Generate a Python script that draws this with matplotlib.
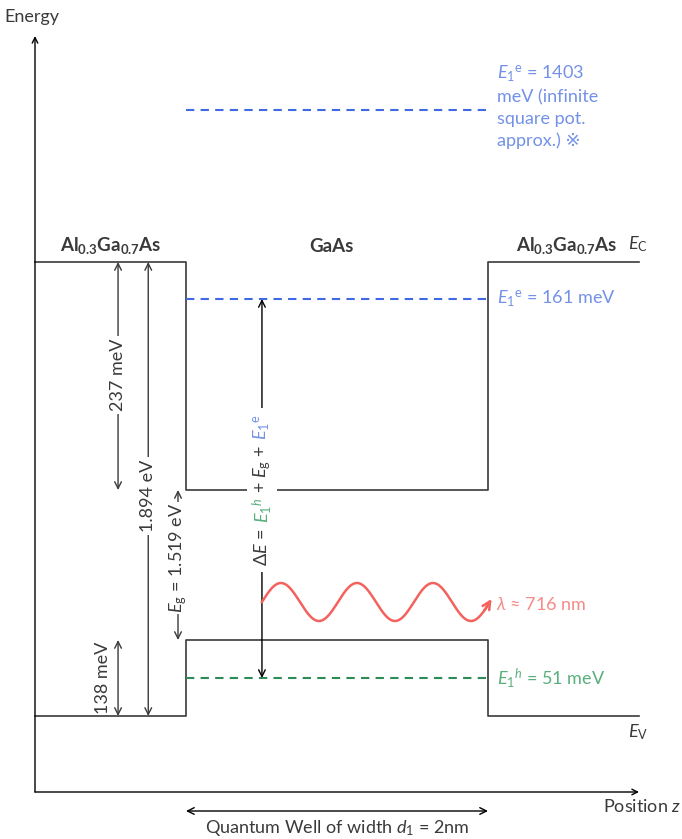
import numpy as np
import matplotlib
matplotlib.use('Agg')
import matplotlib.pyplot as plt
import matplotlib.transforms as mtransforms
from matplotlib.patches import Rectangle

plt.rcParams['font.family'] = ['Lato', 'DejaVu Sans']
plt.rcParams['mathtext.fontset'] = 'custom'
plt.rcParams['mathtext.rm'] = 'Lato'
plt.rcParams['mathtext.it'] = 'Lato:italic'
plt.rcParams['mathtext.bf'] = 'Lato:bold'

# band structure (schematic, not to scale)
z_edges = [-1.0, 0.0, 2.0, 3.0]          # nm: barrier | well | barrier
ec_levels = [530, 302, 530]              # conduction band edge heights
ev_levels = [76, 152, 76]                # valence band edge heights
e1e_level = 493
e1h_level = 114
e1e_inf_level = 682

# values shown in the labels
barrier_gap_eV = 1.894
well_gap_eV = 1.519
dEc_meV = 237
dEv_meV = 138
E1e_meV = 161
E1h_meV = 51
E1e_inf_meV = 1403
lambda_nm = 716
well_width_nm = 2

TXT = '#3a3a3a'
BLUE = '#4169e1'
BLUE_T = '#7391e6'
GREEN = '#2e8b57'
GREEN_T = '#5aae7c'
RED = '#f4625e'
RED_T = '#f58a86'
FS = 13

fig = plt.figure(figsize=(6.82, 8.39), dpi=100)
ax = fig.add_axes([0, 0, 1, 1])
ax.set_xlim(-1 - 35 / 151, (682 - 35) / 151 - 1)
ax.set_ylim(-47, 792)
ax.axis('off')


def steps(levels):
    xs, ys = [], []
    for i, lv in enumerate(levels):
        xs += [z_edges[i], z_edges[i + 1]]
        ys += [lv, lv]
    return xs, ys


# axes
ax.annotate('', xy=(-1, 756), xytext=(-1, 0),
            arrowprops=dict(arrowstyle='->', lw=1, color='black', shrinkA=0, shrinkB=0))
ax.annotate('', xy=(3.0, 0), xytext=(-1, 0),
            arrowprops=dict(arrowstyle='->', lw=1, color='black', shrinkA=0, shrinkB=0))
ax.text(-1.2, 775, 'Energy', fontsize=FS, color=TXT, ha='left', va='center')
ax.text(3.28, -14, 'Position $z$', fontsize=FS, color=TXT, ha='right', va='center')

# band edges
for lv in (ec_levels, ev_levels):
    xs, ys = steps(lv)
    ax.plot(xs, ys, color=TXT, lw=1.2, zorder=2)

ax.text(2.93, 548, r'$E_\mathrm{C}$', fontsize=FS, color=TXT, ha='left', va='center')
ax.text(2.93, 60, r'$E_\mathrm{V}$', fontsize=FS, color=TXT, ha='left', va='center')

alg = r'Al$_{\mathbf{0.3}}$Ga$_{\mathbf{0.7}}$As'
ax.text(-0.5, 546, alg, fontsize=FS + 0.5, color=TXT, weight='bold', ha='center', va='center')
ax.text(2.52, 546, alg, fontsize=FS + 0.5, color=TXT, weight='bold', ha='center', va='center')
ax.text(0.96, 546, 'GaAs', fontsize=FS + 0.5, color=TXT, weight='bold', ha='center', va='center')

# confined levels
ax.plot([0, 2], [e1e_inf_level] * 2, color=BLUE, lw=1.5, dashes=(4, 3))
ax.plot([0, 2], [e1e_level] * 2, color=BLUE, lw=1.5, dashes=(4, 3))
ax.plot([0, 2], [e1h_level] * 2, color=GREEN, lw=1.5, dashes=(4, 3))

ax.text(2.06, 728, r'$E_1{}^{\mathrm{e}}$ = %d' % E1e_inf_meV + '\nmeV (infinite\nsquare pot.\napprox.) \u203b',
        fontsize=FS, color=BLUE_T, ha='left', va='top', linespacing=1.4)
ax.text(2.06, e1e_level, r'$E_1{}^{\mathrm{e}}$ = %d meV' % E1e_meV,
        fontsize=FS, color=BLUE_T, ha='left', va='center')
ax.text(2.06, e1h_level, r'$E_1{}^{h}$ = %d meV' % E1h_meV,
        fontsize=FS, color=GREEN_T, ha='left', va='center')


def dimension(x, y0, y1, label=None, ly=None, pad=2):
    ax.annotate('', xy=(x, y1), xytext=(x, y0),
                arrowprops=dict(arrowstyle='<->', lw=1, color=TXT, shrinkA=0, shrinkB=0,
                                mutation_scale=12))
    if label:
        ax.text(x, ly, label, rotation=90, fontsize=FS, color=TXT, ha='center', va='center',
                bbox=dict(fc='white', ec='none', pad=pad), zorder=4)


dimension(-0.45, ec_levels[1], ec_levels[0], '%d meV' % dEc_meV, 417)
dimension(-0.25, ev_levels[0], ec_levels[0], '%.3f eV' % barrier_gap_eV, 296)
dimension(-0.053, ev_levels[1], ec_levels[1], r'$E_\mathrm{g}$ = %.3f eV' % well_gap_eV, 234, pad=0.5)
dimension(-0.45, ev_levels[0], ev_levels[1])
ax.text(-0.55, 114, '%d meV' % dEv_meV, rotation=90, fontsize=FS, color=TXT,
        ha='center', va='center')

# transition arrow
dE_x = 0.503
ax.annotate('', xy=(dE_x, e1e_level), xytext=(dE_x, e1h_level),
            arrowprops=dict(arrowstyle='<->', lw=1, color='black', shrinkA=0, shrinkB=0,
                            mutation_scale=12))

# multicoloured rotated label
fig.canvas.draw()
r = fig.canvas.get_renderer()
ident = mtransforms.IdentityTransform()
pieces = [(r'$\Delta E$ =', TXT), (r'$E_1{}^{h}$', GREEN_T),
          (r'+ $E_\mathrm{g}$ +', TXT), (r'$E_1{}^{\mathrm{e}}$', BLUE_T)]
gap = 5
xd, yd = ax.transData.transform((dE_x, ec_levels[1]))
objs, lens = [], []
for s, c in pieces:
    t = ax.text(xd, yd, s, color=c, fontsize=FS, rotation=90, rotation_mode='anchor',
                ha='left', va='center', transform=ident, zorder=5)
    objs.append(t)
    lens.append(t.get_window_extent(r).height)
total = sum(lens) + gap * (len(lens) - 1)
y = yd - total / 2
for t, L in zip(objs, lens):
    t.set_position((xd, y))
    y += L + gap
fig.canvas.draw()
bbs = [t.get_window_extent(r) for t in objs]
x0 = min(b.x0 for b in bbs) - 3
x1 = max(b.x1 for b in bbs) + 3
y0 = min(b.y0 for b in bbs) - 6
y1 = max(b.y1 for b in bbs) + 6
ax.add_patch(Rectangle((x0, y0), x1 - x0, y1 - y0, transform=ident, fc='white', ec='none', zorder=4))

# photon
period = 76 / 151
zw = np.linspace(dE_x, dE_x + 3 * period, 300)
yw = 190 + 19 * np.sin(2 * np.pi * (zw - dE_x) / period)
ax.plot(zw, yw, color=RED, lw=1.8, zorder=3)
ax.annotate('', xy=(zw[-1] + 0.01, yw[-1] + 3), xytext=(zw[-8], yw[-8]),
            arrowprops=dict(arrowstyle='->', lw=1.8, color=RED, shrinkA=0, shrinkB=0,
                            mutation_scale=14))
ax.text(2.05, 188, r'$\lambda$ ≈ %d nm' % lambda_nm, fontsize=FS, color=RED_T,
        ha='left', va='center')

# well width
ax.annotate('', xy=(2, -19), xytext=(0, -19),
            arrowprops=dict(arrowstyle='<->', lw=1, color='black', shrinkA=0, shrinkB=0,
                            mutation_scale=12))
ax.text(1, -36, 'Quantum Well of width $d_1$ = %dnm' % well_width_nm, fontsize=FS,
        color=TXT, ha='center', va='center')

fig.savefig('out.png', dpi=100)
